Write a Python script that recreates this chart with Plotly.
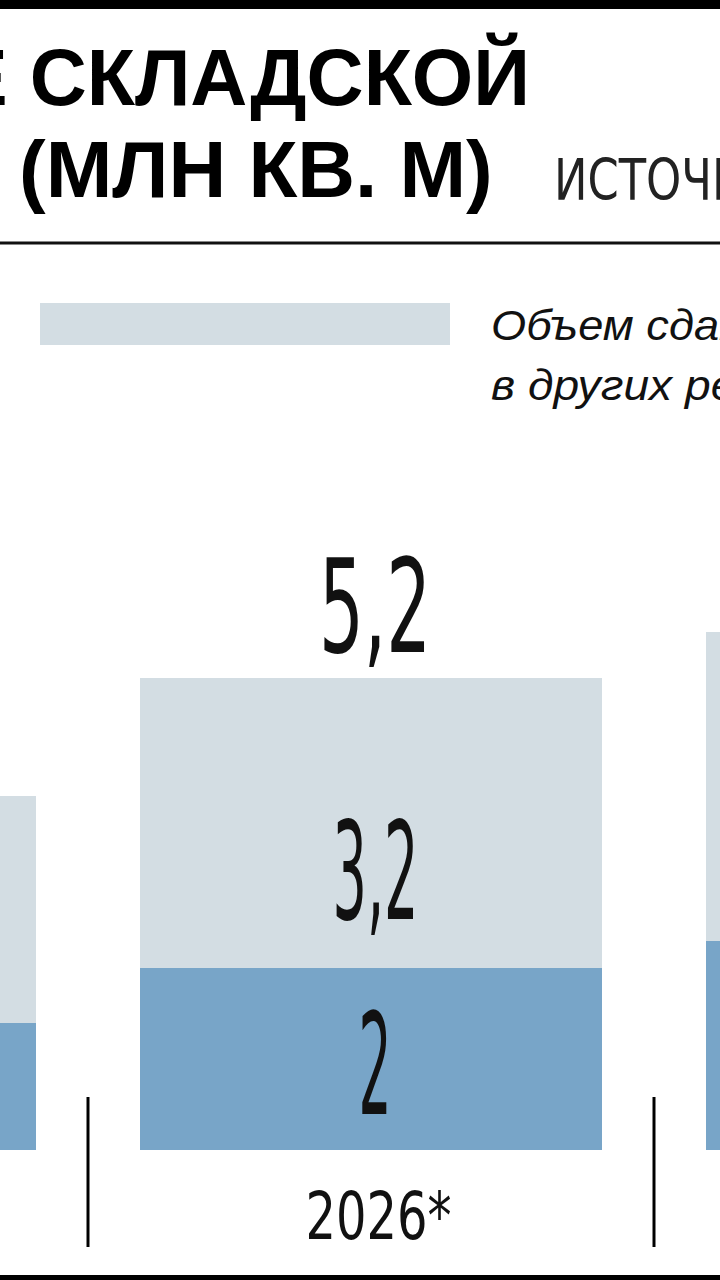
import json
import plotly.graph_objects as go

# ---------------- data ----------------
categories = ["2025", "2026*", "2027*"]
other_regions = [2.5, 3.2, 3.4]      # light segment (other regions)
main_region = [1.4, 2.0, 2.3]        # dark segment
totals = [3.9, 5.2, 5.7]

title_line1 = "Е СКЛАДСКОЙ"
title_line2 = "(МЛН КВ. М)"
source_text = "ИСТОЧНИК"
legend_line1 = "Объем сданных"
legend_line2 = "в других регионах"

# ---------------- style ----------------
W, H = 720, 1280
LIGHT = "#d3dde3"
DARK = "#78a5c8"
INK = "#111111"
NARROW = "Liberation Sans Narrow, DejaVu Sans Condensed, Liberation Sans, Arial"
SANS = "Liberation Sans, Arial, sans-serif"

PX_PER_UNIT = 90.8
BASE_PX = 1150
PITCH = 566.0
CENTER_PX = 371.0
BAR_W = 462.0 / PITCH
NUM_XSHIFT = 4


def fmt(v):
    return ("%g" % v).replace(".", ",")


def px(x):
    return x / W


def py(y):
    return 1 - y / H


x_pos = list(range(len(categories)))

fig = go.Figure()
fig.add_trace(go.Bar(x=x_pos, y=main_region, width=BAR_W, marker=dict(color=DARK, line=dict(width=0)),
                     hoverinfo="skip", name="main"))
fig.add_trace(go.Bar(x=x_pos, y=other_regions, width=BAR_W, marker=dict(color=LIGHT, line=dict(width=0)),
                     hoverinfo="skip", name="other"))

annotations = []
condense = {}  # annotation index -> {w: target width px, n: chars measured, o: transform origin}


def add_ann(target=None, nchars=0, origin="center", **kw):
    if target is not None:
        condense[str(len(annotations))] = dict(w=target, n=nchars, o=origin)
    annotations.append(kw)


def num_width(s, digit, comma):
    return digit * len(s.replace(",", "")) + comma * s.count(",")


for i, cat in enumerate(categories):
    s = fmt(main_region[i])
    add_ann(target=num_width(s, 33, 20),
            x=i, y=main_region[i] / 2, xref="x", yref="y", text=s, showarrow=False,
            xanchor="center", yanchor="middle", yshift=-6, xshift=NUM_XSHIFT,
            font=dict(family=NARROW, size=140, color=INK))
    s = fmt(other_regions[i])
    add_ann(target=num_width(s, 33, 20),
            x=i, y=main_region[i] + other_regions[i] / 2, xref="x", yref="y", text=s, showarrow=False,
            xanchor="center", yanchor="middle", yshift=-49, xshift=NUM_XSHIFT,
            font=dict(family=NARROW, size=135, color=INK))
    s = fmt(totals[i])
    add_ann(target=num_width(s, 45, 22),
            x=i, y=totals[i], xref="x", yref="y", text=s, showarrow=False,
            xanchor="center", yanchor="middle", yshift=71, xshift=NUM_XSHIFT,
            font=dict(family=NARROW, size=130, color=INK))
    add_ann(target=146,
            x=i, y=py(1216), xref="x", yref="paper", text=cat, showarrow=False,
            xanchor="center", yanchor="middle", xshift=7,
            font=dict(family=NARROW, size=66, color=INK))

# title and source
add_ann(x=px(532), y=py(77), xref="paper", yref="paper", text=title_line1, showarrow=False,
        xanchor="right", yanchor="middle", font=dict(family=SANS, size=79, color="#000", weight="bold"))
add_ann(x=px(495), y=py(169), xref="paper", yref="paper", text=title_line2, showarrow=False,
        xanchor="right", yanchor="middle", font=dict(family=SANS, size=80, color="#000", weight="bold"))
add_ann(target=158, nchars=5, origin="left",
        x=px(552), y=py(180), xref="paper", yref="paper", text=source_text, showarrow=False,
        xanchor="left", yanchor="middle", font=dict(family=NARROW, size=56, color="#222"))

# legend text
add_ann(target=178, nchars=7, origin="left",
        x=px(489), y=py(325), xref="paper", yref="paper", text=legend_line1, showarrow=False,
        xanchor="left", yanchor="middle", font=dict(family=SANS, size=42, color=INK, style="italic"))
add_ann(target=194, nchars=9, origin="left",
        x=px(489), y=py(385), xref="paper", yref="paper", text=legend_line2, showarrow=False,
        xanchor="left", yanchor="middle", font=dict(family=SANS, size=42, color=INK, style="italic"))

shapes = [
    dict(type="rect", xref="paper", yref="paper", x0=0, x1=1, y0=py(9), y1=1,
         fillcolor="#000", line=dict(width=0)),
    dict(type="line", xref="paper", yref="paper", x0=0, x1=1, y0=py(243), y1=py(243),
         line=dict(color="#111", width=3)),
    dict(type="rect", xref="paper", yref="paper", x0=0, x1=1, y0=0, y1=py(1275),
         fillcolor="#000", line=dict(width=0)),
    dict(type="rect", xref="paper", yref="paper", x0=px(40), x1=px(450), y0=py(345), y1=py(303),
         fillcolor=LIGHT, line=dict(width=0)),
]
for i in range(len(categories) - 1):
    shapes.append(dict(type="line", xref="x", yref="paper", x0=i + 0.5, x1=i + 0.5,
                       y0=py(1247), y1=py(1097), line=dict(color="#000", width=3)))

x0 = 1 - CENTER_PX / PITCH
x1 = 1 + (W - CENTER_PX) / PITCH
fig.update_layout(
    width=W, height=H, margin=dict(l=0, r=0, t=0, b=0),
    paper_bgcolor="white", plot_bgcolor="white",
    barmode="stack", showlegend=False,
    xaxis=dict(range=[x0, x1], visible=False, fixedrange=True),
    yaxis=dict(range=[0, BASE_PX / PX_PER_UNIT], domain=[(H - BASE_PX) / H, 1], visible=False, fixedrange=True),
    annotations=annotations, shapes=shapes,
)

post = """
document.documentElement.style.margin = '0';
document.documentElement.style.overflow = 'hidden';
document.body.style.margin = '0';
document.body.style.padding = '0';
var gd = document.getElementById('{plot_id}');
var targets = TARGETS;
function condense(){
  var gs = gd.querySelectorAll('g.annotation');
  gs.forEach(function(g){
    var i = g.getAttribute('data-index');
    if (!(i in targets)) return;
    var t = g.querySelector('text.annotation-text');
    if (!t) return;
    var spec = targets[i];
    t.style.transform = '';
    var w;
    try {
      var n = spec.n > 0 ? Math.min(spec.n, t.getNumberOfChars()) : 0;
      w = n > 0 ? t.getSubStringLength(0, n) : t.getBBox().width;
    } catch (e) { w = t.getBBox().width; }
    if (w > 0) {
      t.style.transformBox = 'fill-box';
      t.style.transformOrigin = spec.o;
      t.style.transform = 'scaleX(' + (spec.w / w) + ')';
    }
  });
}
condense();
gd.on('plotly_afterplot', condense);
""".replace("TARGETS", json.dumps(condense))

fig.write_html("out.html", post_script=post, config=dict(displayModeBar=False))
